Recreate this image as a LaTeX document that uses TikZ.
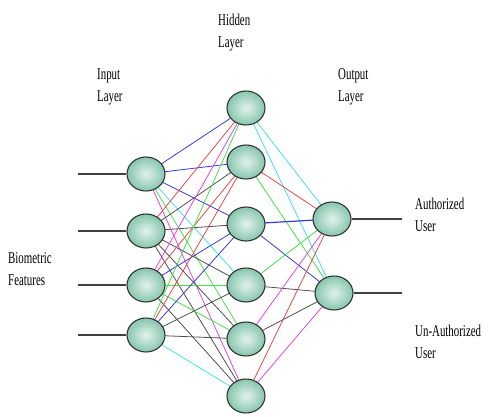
\documentclass[tikz,border=0pt]{standalone}
\usepackage{fontspec}
\setmainfont{Liberation Serif}
\newfontfamily\condfont[FakeStretch=0.66]{Liberation Serif}
\usetikzlibrary{shapes.geometric,backgrounds}
\definecolor{eblue}{HTML}{3A3AD8}
\definecolor{ered}{HTML}{E84848}
\definecolor{egreen}{HTML}{48E048}
\definecolor{emag}{HTML}{E048E0}
\definecolor{ecyan}{HTML}{48E0E0}
\definecolor{egray}{HTML}{505050}
\definecolor{nodeouter}{HTML}{86C6AE}
\definecolor{nodeinner}{HTML}{E2F2EA}
\tikzset{
  neuron/.style={ellipse, minimum width=38pt, minimum height=34pt, inner sep=0pt,
    draw=black!80, line width=1.1pt, inner color=nodeinner, outer color=nodeouter},
  lbl/.style={anchor=base west, inner sep=0pt, font=\condfont\fontsize{16.5}{22}\selectfont, align=left},
  io/.style={draw=black!75, line width=1.1pt},
  edge/.style={line width=0.8pt}
}
\begin{document}
\begin{tikzpicture}[x=1pt,y=-1pt]
\useasboundingbox (0,0) rectangle (490,416);
% input nodes
\node[neuron] (i1) at (146,174) {};
\node[neuron] (i2) at (146,231) {};
\node[neuron] (i3) at (146,285) {};
\node[neuron] (i4) at (146,335) {};
% hidden nodes
\node[neuron] (h1) at (246,108) {};
\node[neuron] (h2) at (246,162) {};
\node[neuron] (h3) at (246,224) {};
\node[neuron] (h4) at (246,285) {};
\node[neuron] (h5) at (246,339) {};
\node[neuron] (h6) at (246,396) {};
% output nodes
\node[neuron] (o1) at (332,219) {};
\node[neuron] (o2) at (334,293) {};
% free ends
\coordinate (a1) at (78,174);
\coordinate (a2) at (78,231);
\coordinate (a3) at (78,285);
\coordinate (a4) at (78,335);
\coordinate (b1) at (402,219);
\coordinate (b2) at (402,293);
\begin{scope}[on background layer]
\draw[io] (a1) -- (i1);
\draw[io] (a2) -- (i2);
\draw[io] (a3) -- (i3);
\draw[io] (a4) -- (i4);
\draw[io] (o1) -- (b1);
\draw[io] (o2) -- (b2);
% input -> hidden
\draw[edge,eblue] (i1.center) -- (h1.center);
\draw[edge,eblue] (i1.center) -- (h2.center);
\draw[edge,eblue] (i1.center) -- (h3.center);
\draw[edge,ecyan] (i1.center) -- (h4.center);
\draw[edge,egreen] (i1.center) -- (h5.center);
\draw[edge,emag] (i1.center) -- (h6.center);
\draw[edge,ered] (i2.center) -- (h1.center);
\draw[edge,egray] (i2.center) -- (h2.center);
\draw[edge,egray] (i2.center) -- (h3.center);
\draw[edge,egray] (i2.center) -- (h4.center);
\draw[edge,egray] (i2.center) -- (h5.center);
\draw[edge,egray] (i2.center) -- (h6.center);
\draw[edge,emag] (i3.center) -- (h1.center);
\draw[edge,ered] (i3.center) -- (h2.center);
\draw[edge,eblue] (i3.center) -- (h3.center);
\draw[edge,egreen] (i3.center) -- (h4.center);
\draw[edge,egreen] (i3.center) -- (h5.center);
\draw[edge,egray] (i3.center) -- (h6.center);
\draw[edge,egreen] (i4.center) -- (h1.center);
\draw[edge,ered] (i4.center) -- (h2.center);
\draw[edge,eblue] (i4.center) -- (h3.center);
\draw[edge,egray] (i4.center) -- (h4.center);
\draw[edge,egray] (i4.center) -- (h5.center);
\draw[edge,ecyan] (i4.center) -- (h6.center);
% hidden -> output
\draw[edge,ecyan] (h1.center) -- (o1.center);
\draw[edge,ecyan] (h1.center) -- (o2.center);
\draw[edge,ered] (h2.center) -- (o1.center);
\draw[edge,egreen] (h2.center) -- (o2.center);
\draw[edge,eblue,line width=1.2pt] (h3.center) -- (o1.center);
\draw[edge,eblue] (h3.center) -- (o2.center);
\draw[edge,egreen] (h4.center) -- (o1.center);
\draw[edge,egray] (h4.center) -- (o2.center);
\draw[edge,emag] (h5.center) -- (o1.center);
\draw[edge,egray] (h5.center) -- (o2.center);
\draw[edge,ered] (h6.center) -- (o1.center);
\draw[edge,emag] (h6.center) -- (o2.center);
\end{scope}
% labels (anchored at the baseline of the last line)
\node[lbl] (lh) at (218,47) {Hidden\\Layer};
\node[lbl] (li) at (97,101) {Input\\Layer};
\node[lbl] (lo) at (338,101) {Output\\Layer};
\node[lbl] (lb) at (8,285) {Biometric\\Features};
\node[lbl] (la) at (415,231) {Authorized\\User};
\node[lbl] (lu) at (415,358) {Un-Authorized\\User};
\end{tikzpicture}
\end{document}
